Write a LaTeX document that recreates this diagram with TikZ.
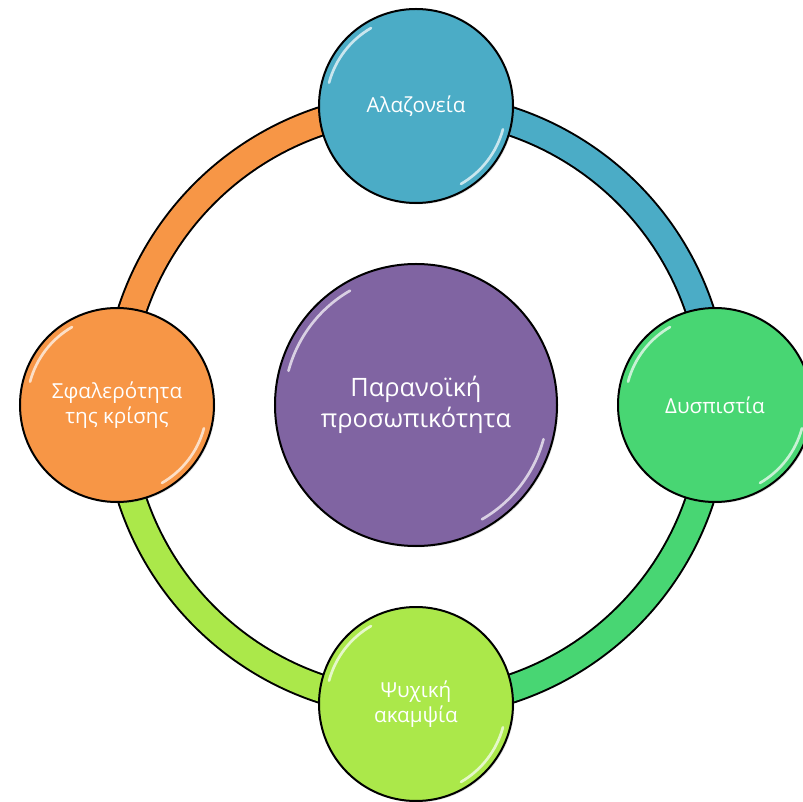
\documentclass[tikz,border=0pt]{standalone}
\usepackage{fontspec}
\setmainfont{Open Sans}
\usetikzlibrary{positioning, shadows, backgrounds}

\definecolor{hubPurple}{RGB}{128,100,162}
\definecolor{satBlue}{RGB}{75,172,198}
\definecolor{satGreen}{RGB}{72,214,115}
\definecolor{satLime}{RGB}{171,232,74}
\definecolor{satOrange}{RGB}{247,150,70}

\begin{document}
\begin{tikzpicture}[
    x=0.75pt, y=0.75pt,
    node distance=44.25pt,
    % --- styles ---
    hub/.style={
            circle,
            draw=black,
            line width=1.5pt,
            fill=hubPurple,
            text=white,
            align=center,
            minimum size=211.5pt,
            drop shadow={opacity=0.25, shadow xshift=1pt, shadow yshift=-1pt},
            font=\fontsize{19}{23.5}\selectfont
        },
    sat/.style={
            hub,
            fill=#1,
            minimum size=145.5pt,
            font=\fontsize{15.5}{19}\selectfont
        },
    ring/.style={
            draw=black,
            line width=1.5pt,
            double=#1,
            double distance=19.5pt
        },
    shine/.style={
            white,
            opacity=0.7,
            line width=2pt,
            line cap=round
        }
    ]
    \useasboundingbox (-416,-397) rectangle (386,405);

    % --- nodes ---
    \node[hub] (hub) at (0,0) {Παρανοϊκή\\προσωπικότητα};
    \node[sat=satBlue, above=of hub] (top) {Αλαζονεία};
    \node[sat=satGreen, right=of hub] (right) {Δυσπιστία};
    \node[sat=satLime, below=of hub] (bottom) {Ψυχική\\ακαμψία};
    \node[sat=satOrange, left=of hub] (left) {Σφαλερότητα\\της κρίσης};

    % --- ring ---
    \begin{scope}[on background layer]
        \draw[ring=satBlue] (top.center) to[bend left=45] (right.center);
        \draw[ring=satGreen] (right.center) to[bend left=45] (bottom.center);
        \draw[ring=satLime] (bottom.center) to[bend left=45] (left.center);
        \draw[ring=satOrange] (left.center) to[bend left=45] (top.center);
    \end{scope}

    % --- highlights ---
    \foreach \n/\r in {hub/132, top/90, right/90, bottom/90, left/90} {
        \draw[shine] ([shift={(165:\r)}]\n.center) arc[start angle=165, end angle=120, radius=\r];
        \draw[shine] ([shift={(-15:\r)}]\n.center) arc[start angle=-15, end angle=-60, radius=\r];
    }

\end{tikzpicture}
\end{document}
